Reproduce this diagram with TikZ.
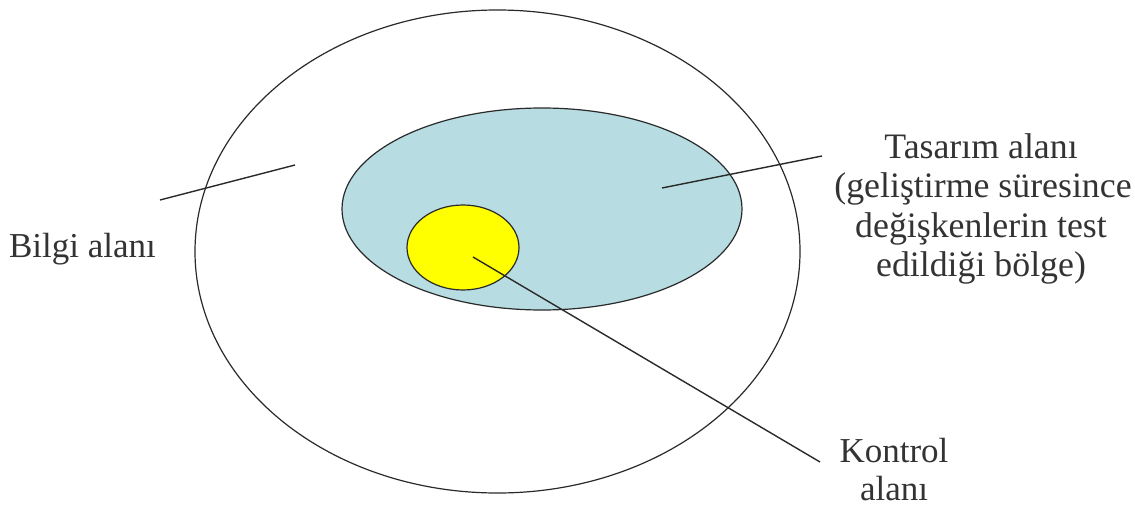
\documentclass[tikz,border=0pt]{standalone}
\usepackage{fontspec}
\setmainfont{Liberation Serif}
\definecolor{txt}{HTML}{333333}
\definecolor{ln}{HTML}{2A2A2A}
\definecolor{design}{HTML}{B7DDE3}
\definecolor{ctrl}{HTML}{FFFF00}
\begin{document}
\begin{tikzpicture}[x=1pt,y=-1pt,
  region/.style={draw=ln,line width=1.2pt},
  leader/.style={draw=ln,line width=1.4pt},
  lbl/.style={text=txt,anchor=base,inner sep=0pt,font=\fontsize{35}{40}\selectfont},
  lblb/.style={lbl,font=\fontsize{35.8}{40}\selectfont}]
\useasboundingbox (0,0) rectangle (1135,511);
% regions
\draw[region,fill=white] (497.5,251.5) ellipse [x radius=302.5,y radius=241.5];
\draw[region,fill=design] (542,209) ellipse [x radius=200,y radius=101];
\draw[region,fill=ctrl] (463,247.5) ellipse [x radius=56,y radius=42.5];
% label anchors
\coordinate (bA) at (295,165);
\coordinate (bB) at (160,200);
\coordinate (tA) at (662,188);
\coordinate (tB) at (822,156);
\coordinate (kA) at (473,257);
\coordinate (kB) at (820,462);
% labels
\node[lbl] (bilgi) at (82.5,257) {Bilgi alanı};
\node[lblb] (t1) at (981,158) {Tasarım alanı};
\node[lblb] (t2) at (983,197.5) {(geliştirme süresince};
\node[lblb] (t3) at (981,237) {değişkenlerin test};
\node[lblb] (t4) at (981,276) {edildiği bölge)};
\node[lbl] (k1) at (894,462) {Kontrol};
\node[lbl] (k2) at (894,500) {alanı};
% leaders
\draw[leader] (bA) -- (bB);
\draw[leader] (tA) -- (tB);
\draw[leader] (kA) -- (kB);
\end{tikzpicture}
\end{document}
